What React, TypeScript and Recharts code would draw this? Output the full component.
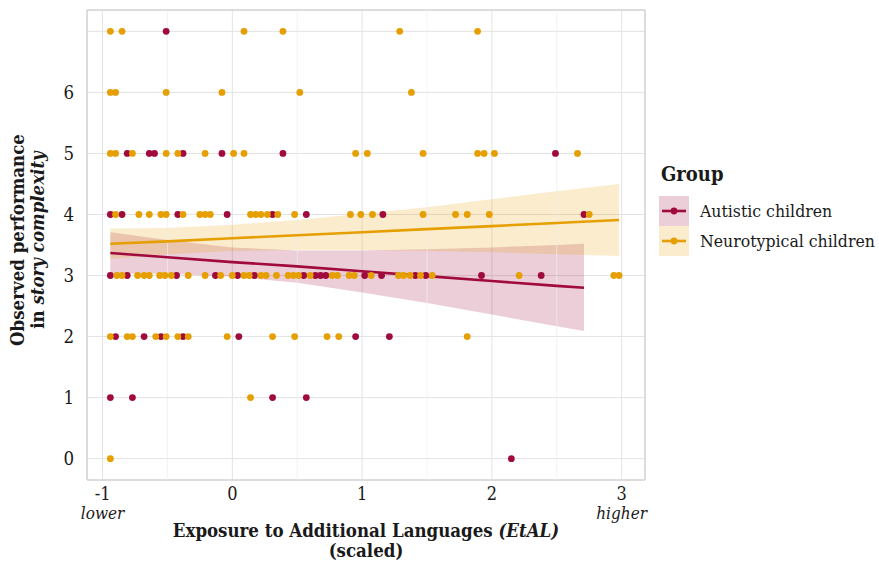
import {
  ComposedChart,
  Scatter,
  Line,
  Area,
  XAxis,
  YAxis,
  CartesianGrid,
  ReferenceLine,
  ReferenceArea,
} from 'recharts';

const RED = '#a00a3c';
const ORANGE = '#e69f00';
const INK = '#1a1a1a';
const FONT = '"DejaVu Serif Condensed", "DejaVu Serif", serif';

// EtAL (scaled) of each child, listed by observed story-complexity score (index = score)
const autisticByScore: number[][] = [
  [2.15],
  [-0.94, -0.77, 0.31, 0.57],
  [-0.9, -0.68, -0.55, -0.38, 0.05, 0.95, 1.21],
  [-0.94, -0.81, -0.43, -0.13, 0.04, 0.17, 0.55, 0.64, 0.68, 0.72, 1.02, 1.15, 1.41, 1.49, 1.92, 2.38],
  [-0.94, -0.85, -0.42, -0.04, 0.31, 0.57, 1.16, 2.71],
  [-0.81, -0.64, -0.6, -0.38, -0.08, 0.39, 2.49],
  [],
  [-0.51],
];

const typicalByScore: number[][] = [
  [-0.94],
  [0.14],
  [-0.94, -0.81, -0.77, -0.59, -0.51, -0.42, -0.34, -0.04, 0.31, 0.48, 0.73, 0.82, 1.81],
  [
    -0.89, -0.85, -0.73, -0.68, -0.64, -0.56, -0.52, -0.47, -0.34, -0.21, -0.09, 0, 0.09, 0.13, 0.22,
    0.26, 0.34, 0.43, 0.47, 0.51, 0.6, 0.77, 0.81, 0.9, 0.94, 1.07, 1.28, 1.32, 1.37, 1.45, 1.54, 2.21,
    2.94, 2.98,
  ],
  [
    -0.9, -0.72, -0.64, -0.55, -0.51, -0.38, -0.25, -0.21, -0.17, 0.14, 0.18, 0.22, 0.27, 0.35, 0.48,
    0.91, 0.99, 1.08, 1.47, 1.72, 1.81, 1.98, 2.75,
  ],
  [-0.94, -0.9, -0.77, -0.51, -0.42, -0.21, 0.01, 0.09, 0.95, 1.04, 1.47, 1.89, 1.94, 2.02, 2.66],
  [-0.94, -0.9, -0.51, -0.08, 0.52, 1.38],
  [-0.94, -0.85, 0.09, 0.39, 1.29, 1.89],
];

// linear fit and 95% band for each group
const autisticFitX = [-0.94, -0.5, 0, 0.5, 1, 1.5, 2, 2.5, 2.71];
const autisticFit = [3.37, 3.3, 3.22, 3.15, 3.07, 2.99, 2.91, 2.83, 2.8];
const autisticLower = [3.03, 3.03, 2.98, 2.88, 2.72, 2.55, 2.36, 2.17, 2.09];
const autisticUpper = [3.71, 3.58, 3.46, 3.41, 3.41, 3.43, 3.46, 3.5, 3.52];

const typicalFitX = [-0.94, -0.5, 0, 0.5, 1, 1.5, 2, 2.5, 2.98];
const typicalFit = [3.52, 3.56, 3.61, 3.66, 3.71, 3.76, 3.81, 3.86, 3.91];
const typicalLower = [3.27, 3.35, 3.4, 3.42, 3.42, 3.4, 3.38, 3.35, 3.32];
const typicalUpper = [3.77, 3.78, 3.83, 3.91, 4.01, 4.12, 4.25, 4.38, 4.5];

const xTicks = [-1, 0, 1, 2, 3];
const xTickLabels = ['-1', '0', '1', '2', '3'];
const xTickNotes = ['lower', '', '', '', 'higher'];
const xMinor = [-0.5, 0.5, 1.5, 2.5];
const yTicks = [0, 1, 2, 3, 4, 5, 6, 7];
const yTickLabels = ['0', '1', '2', '3', '4', '5', '6', ''];

const groups = ['Autistic children', 'Neurotypical children'];

const X_DOMAIN: [number, number] = [-1.12, 3.18];
const Y_DOMAIN: [number, number] = [-0.35, 7.35];

const toPoints = (rows: number[][]) =>
  rows.flatMap((xs, score) => xs.map((x) => ({ x, y: score })));

const toFit = (xs: number[], fit: number[], lo: number[], hi: number[]) =>
  xs.map((x, i) => ({ x, fit: fit[i], band: [lo[i], hi[i]] }));

const autisticPoints = toPoints(autisticByScore);
const typicalPoints = toPoints(typicalByScore);
const autisticLine = toFit(autisticFitX, autisticFit, autisticLower, autisticUpper);
const typicalLine = toFit(typicalFitX, typicalFit, typicalLower, typicalUpper);

const Dot = (color: string) => (props: any) =>
  <circle cx={props.cx} cy={props.cy} r={3.4} fill={color} />;

function XTick({ x, y, index }: any) {
  const note = xTickNotes[index];
  return (
    <text x={x} y={y} textAnchor="middle" fontFamily={FONT} fontSize={18} fill={INK}>
      <tspan x={x} dy={16}>{xTickLabels[index]}</tspan>
      {note && (
        <tspan x={x} dy={19} fontSize={17} fontStyle="italic">
          {note}
        </tspan>
      )}
    </text>
  );
}

function XTitle({ viewBox }: any) {
  const cx = viewBox.x + viewBox.width / 2;
  return (
    <text x={cx} y={viewBox.y + 57} textAnchor="middle" fontFamily={FONT} fontSize={18.5} fontWeight="bold" fill={INK}>
      <tspan>Exposure to Additional Languages </tspan>
      <tspan fontStyle="italic">(EtAL)</tspan>
      <tspan x={cx} dy={20}>(scaled)</tspan>
    </text>
  );
}

function YTitle({ viewBox }: any) {
  const cy = viewBox.y + viewBox.height / 2 - 5;
  const bx = 24;
  return (
    <text
      x={bx}
      y={cy}
      transform={`rotate(-90, ${bx}, ${cy})`}
      textAnchor="middle"
      fontFamily={FONT}
      fontSize={18.5}
      fontWeight="bold"
      fill={INK}
    >
      <tspan>Observed performance</tspan>
      <tspan x={bx} dy={20}>in </tspan>
      <tspan fontStyle="italic">story complexity</tspan>
    </text>
  );
}

function GroupLegend() {
  const colors = [RED, ORANGE];
  return (
    <div style={{ position: 'absolute', left: 659, top: 162, fontFamily: FONT, color: INK }}>
      <div style={{ fontSize: 20, fontWeight: 'bold', marginBottom: 10, marginLeft: 2 }}>Group</div>
      {groups.map((g, i) => (
        <div key={g} style={{ display: 'flex', alignItems: 'center', height: 30 }}>
          <svg width={30} height={30} style={{ marginRight: 11 }}>
            <rect width={30} height={30} fill={colors[i]} fillOpacity={0.2} />
            <line x1={3} x2={27} y1={15} y2={15} stroke={colors[i]} strokeWidth={2.6} />
            <circle cx={15} cy={15} r={3.4} fill={colors[i]} />
          </svg>
          <span style={{ fontSize: 17.5 }}>{g}</span>
        </div>
      ))}
    </div>
  );
}

export default function App() {
  return (
    <div style={{ position: 'absolute', left: 0, top: 0, width: 879, height: 563, background: '#fff' }}>
      <ComposedChart width={879} height={563} margin={{ top: 10, right: 234, bottom: 0, left: 0 }}>
        <CartesianGrid stroke="#e3e3e3" strokeWidth={1} />
        {xMinor.map((v) => (
          <ReferenceLine key={v} x={v} stroke="#eeeeee" strokeWidth={0.7} />
        ))}
        <XAxis
          type="number"
          dataKey="x"
          domain={X_DOMAIN}
          ticks={xTicks}
          allowDataOverflow
          axisLine={false}
          tickLine={false}
          tickSize={0}
          tickMargin={4}
          height={83}
          tick={<XTick />}
          label={<XTitle />}
        />
        <YAxis
          type="number"
          domain={Y_DOMAIN}
          ticks={yTicks}
          allowDataOverflow
          axisLine={false}
          tickLine={false}
          tickSize={0}
          tickMargin={13}
          width={87}
          tickFormatter={(v: number) => yTickLabels[yTicks.indexOf(v)]}
          tick={{ fontFamily: FONT, fontSize: 18.5, fill: INK }}
          label={<YTitle />}
        />
        <Scatter data={autisticPoints} dataKey="y" shape={Dot(RED)} isAnimationActive={false} />
        <Scatter data={typicalPoints} dataKey="y" shape={Dot(ORANGE)} isAnimationActive={false} />
        <Area
          data={autisticLine}
          dataKey="band"
          type="linear"
          stroke="none"
          fill={RED}
          fillOpacity={0.2}
          isAnimationActive={false}
        />
        <Line
          data={autisticLine}
          dataKey="fit"
          type="linear"
          stroke={RED}
          strokeWidth={2.6}
          dot={false}
          isAnimationActive={false}
        />
        <Area
          data={typicalLine}
          dataKey="band"
          type="linear"
          stroke="none"
          fill={ORANGE}
          fillOpacity={0.2}
          isAnimationActive={false}
        />
        <Line
          data={typicalLine}
          dataKey="fit"
          type="linear"
          stroke={ORANGE}
          strokeWidth={2.6}
          dot={false}
          isAnimationActive={false}
        />
        <ReferenceArea
          x1={X_DOMAIN[0]}
          x2={X_DOMAIN[1]}
          y1={Y_DOMAIN[0]}
          y2={Y_DOMAIN[1]}
          fill="none"
          stroke="#c8c8c8"
          strokeWidth={1}
          ifOverflow="extendDomain"
        />
      </ComposedChart>
      <GroupLegend />
    </div>
  );
}
